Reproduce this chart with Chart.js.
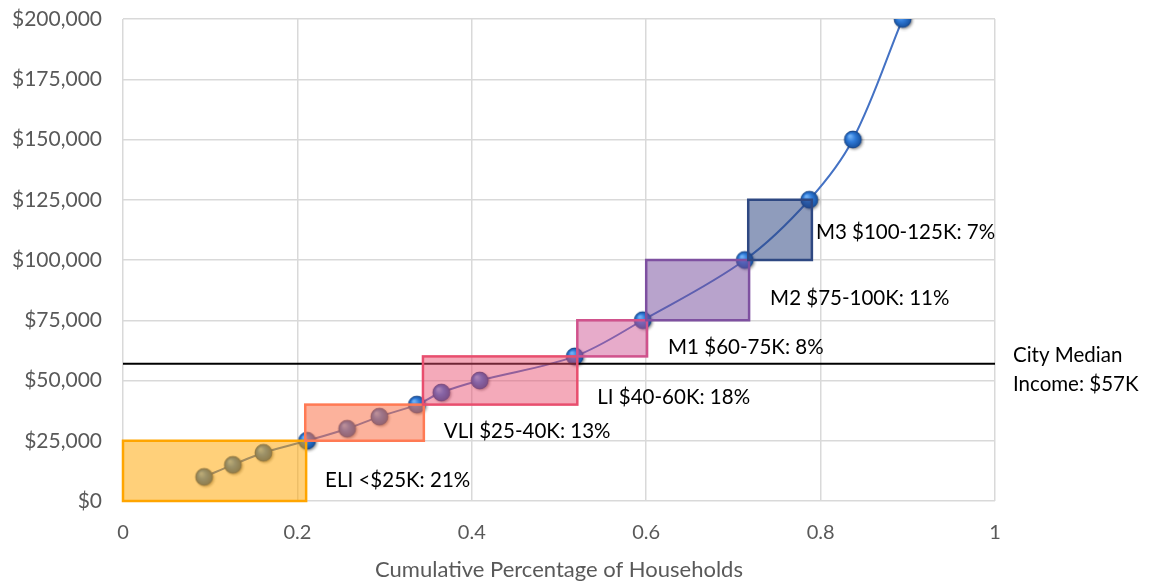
<!DOCTYPE html>
<html>
<head>
<meta charset="utf-8">
<script src="https://cdn.jsdelivr.net/npm/chart.js@4/dist/chart.umd.min.js"></script>
<style>
  html, body { margin: 0; padding: 0; background: #ffffff; }
  #wrap { width: 1153px; height: 585px; }
</style>
</head>
<body>
<div id="wrap"><canvas id="c" width="1153" height="585"></canvas></div>
<script>
// Household income distribution: cumulative share of households vs. income
const shareX  = [0.093, 0.126, 0.161, 0.211, 0.257, 0.294, 0.337, 0.365, 0.409, 0.518, 0.596, 0.713, 0.787, 0.837, 0.894];
const incomeY = [10000, 15000, 20000, 25000, 30000, 35000, 40000, 45000, 50000, 60000, 75000, 100000, 125000, 150000, 200000];

// Income bands (share of households on x, income range on y)
const bandNames = ['ELI <$25K: 21%', 'VLI $25-40K: 13%', 'LI $40-60K: 18%', 'M1 $60-75K: 8%', 'M2 $75-100K: 11%', 'M3 $100-125K: 7%'];
const bandX0 = [0.000, 0.209, 0.344, 0.521, 0.600, 0.717];
const bandX1 = [0.210, 0.345, 0.521, 0.601, 0.718, 0.790];
const bandY0 = [0, 25000, 40000, 60000, 75000, 100000];
const bandY1 = [25000, 40000, 60000, 75000, 100000, 125000];

const medianIncome = 57000;
const medianLines = ['City Median', 'Income: $57K'];

const xTitle = 'Cumulative Percentage of Households';

// Band styling
const bandBorder = ['rgb(255,165,0)', 'rgb(255,122,84)', 'rgb(232,78,110)', 'rgb(208,82,140)', 'rgb(126,80,160)', 'rgb(46,72,130)'];
const bandFill   = ['rgba(255,165,0,0.52)', 'rgba(250,115,75,0.55)', 'rgba(232,78,110,0.48)', 'rgba(205,80,145,0.48)', 'rgba(118,78,158,0.52)', 'rgba(40,66,126,0.52)'];
// label offset (px) from each band's bottom-right corner to the label's left/middle
const labelOffset = [[19, -21], [20, -9], [20, -7], [21, -9], [21, -22], [4, -28]];

const FONT = 'Lato, "Open Sans", sans-serif';

// Shaded blue sphere used as the point marker
function makeSphere(r) {
  const pad = 4;
  const size = Math.ceil(r * 2 + pad * 2);
  const cv = document.createElement('canvas');
  cv.width = size; cv.height = size;
  const g = cv.getContext('2d');
  const c = size / 2;
  g.save();
  g.shadowColor = 'rgba(0,0,0,0.45)';
  g.shadowBlur = 3;
  g.shadowOffsetX = 1.5;
  g.shadowOffsetY = 1.5;
  g.beginPath();
  g.arc(c, c, r, 0, Math.PI * 2);
  g.fillStyle = '#1f5fb5';
  g.fill();
  g.restore();
  const grad = g.createRadialGradient(c - r * 0.35, c - r * 0.4, r * 0.1, c, c, r);
  grad.addColorStop(0, '#6fb0f5');
  grad.addColorStop(0.45, '#2f7ad8');
  grad.addColorStop(1, '#16509e');
  g.beginPath();
  g.arc(c, c, r, 0, Math.PI * 2);
  g.fillStyle = grad;
  g.fill();
  g.lineWidth = 0.8;
  g.strokeStyle = 'rgba(20,60,120,0.8)';
  g.stroke();
  return cv;
}
const sphere = makeSphere(8.5);

const bandsPlugin = {
  id: 'incomeBands',
  afterDatasetsDraw(chart) {
    const { ctx, chartArea, scales: { x, y } } = chart;
    ctx.save();
    // median income line
    const my = y.getPixelForValue(medianIncome);
    ctx.beginPath();
    ctx.moveTo(chartArea.left, my);
    ctx.lineTo(chartArea.right, my);
    ctx.lineWidth = 2;
    ctx.strokeStyle = '#000000';
    ctx.stroke();

    // bands
    for (let i = 0; i < bandNames.length; i++) {
      const l = x.getPixelForValue(bandX0[i]);
      const r = x.getPixelForValue(bandX1[i]);
      const t = y.getPixelForValue(bandY1[i]);
      const b = y.getPixelForValue(bandY0[i]);
      ctx.fillStyle = bandFill[i];
      ctx.fillRect(l, t, r - l, b - t);
      ctx.lineWidth = 2.5;
      ctx.strokeStyle = bandBorder[i];
      ctx.strokeRect(l, t, r - l, b - t);
    }
    // band labels
    ctx.font = '20.5px ' + FONT;
    ctx.fillStyle = '#000000';
    ctx.textAlign = 'left';
    ctx.textBaseline = 'middle';
    for (let i = 0; i < bandNames.length; i++) {
      const r = x.getPixelForValue(bandX1[i]);
      const b = y.getPixelForValue(bandY0[i]);
      ctx.fillText(bandNames[i], r + labelOffset[i][0], b + labelOffset[i][1]);
    }
    // median label, right of the plot
    ctx.fillText(medianLines[0], chartArea.right + 18, my - 8);
    ctx.fillText(medianLines[1], chartArea.right + 18, my + 21);
    ctx.restore();
  }
};

new Chart(document.getElementById('c'), {
  type: 'scatter',
  data: {
    datasets: [{
      data: shareX.map((v, i) => ({ x: v, y: incomeY[i] })),
      showLine: true,
      borderColor: 'rgb(68,114,196)',
      borderWidth: 2,
      tension: 0.35,
      pointStyle: sphere,
      pointRadius: 9,
      pointHoverRadius: 9
    }]
  },
  options: {
    responsive: false,
    animation: false,
    events: [],
    layout: { autoPadding: false, padding: { top: 19, right: 158, left: 0, bottom: 0 } },
    plugins: { legend: { display: false }, tooltip: { enabled: false } },
    scales: {
      x: {
        type: 'linear',
        min: 0, max: 1,
        ticks: { stepSize: 0.2, color: '#595959', font: { family: FONT, size: 20 }, padding: 20,
                 callback: v => String(Math.round(v * 10) / 10) },
        grid: { color: '#d9d9d9', lineWidth: 1.5, drawTicks: false },
        border: { display: false },
        title: { display: true, text: xTitle, color: '#595959', font: { family: FONT, size: 22 }, padding: { top: 0, bottom: 2 } },
        afterFit(s) { s.height = 84; s.paddingLeft = 0; s.paddingRight = 0; }
      },
      y: {
        min: 0, max: 200000,
        ticks: { stepSize: 25000, color: '#595959', font: { family: FONT, size: 21 }, padding: 21,
                 callback: v => '$' + v.toLocaleString('en-US') },
        grid: { color: '#d9d9d9', lineWidth: 1.5, drawTicks: false },
        border: { display: false },
        afterFit(s) { s.width = 123; s.paddingTop = 0; s.paddingBottom = 0; }
      }
    }
  },
  plugins: [bandsPlugin]
});
</script>
</body>
</html>
